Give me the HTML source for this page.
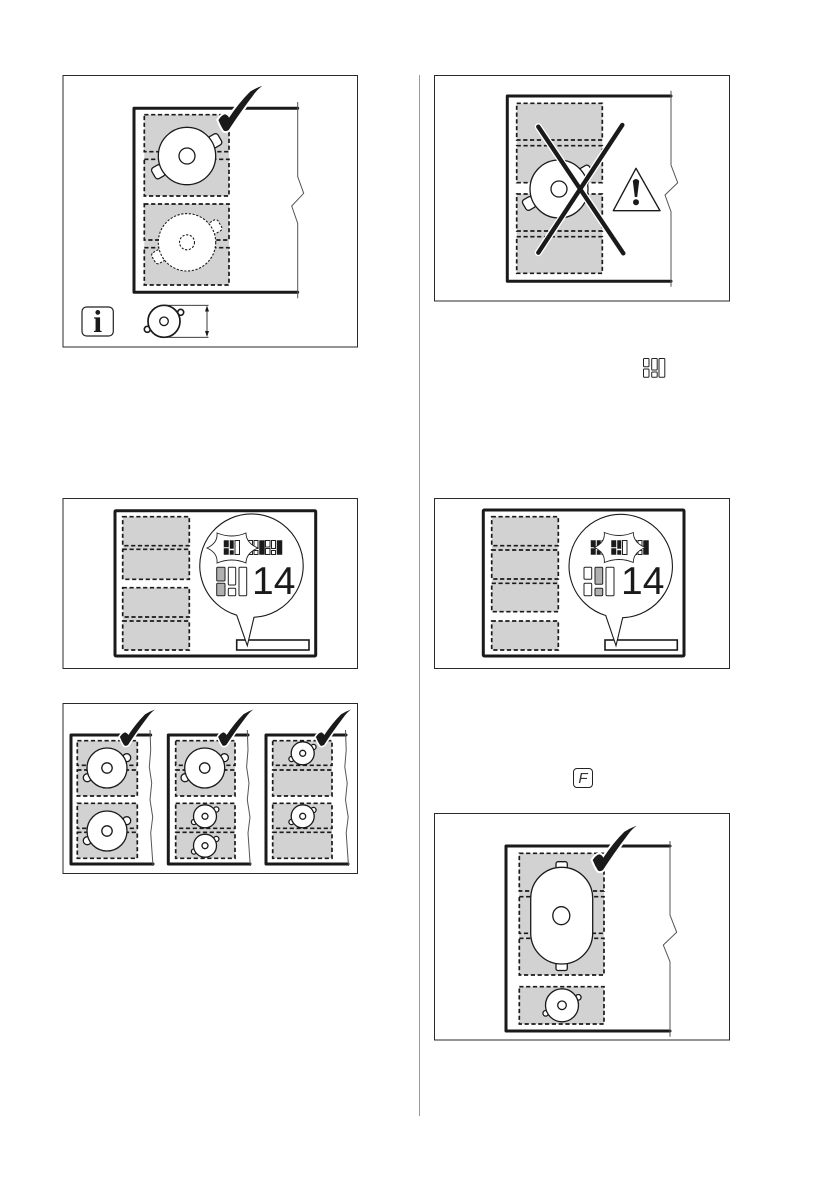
<!DOCTYPE html>
<html>
<head>
<meta charset="utf-8">
<title>Diagram</title>
<style>
html,body{margin:0;padding:0;background:#fff;}
svg{display:block;}
.f{fill:#fff;stroke:#2a2a2a;stroke-width:1;}
.g{fill:#d2d2d2;stroke:none;}
.z{fill:none;stroke:#1a1a1a;stroke-width:1.7;stroke-dasharray:4.2 2.6;}
.h{fill:none;stroke:#1a1a1a;stroke-width:3;stroke-linejoin:round;stroke-linecap:round;}
.e{fill:none;stroke:#555;stroke-width:1;}
.p{fill:#fff;stroke:#1a1a1a;stroke-width:1.3;}
.d{fill:#fff;stroke:#1a1a1a;stroke-width:1.1;stroke-dasharray:2.2 1.6;}
.c{fill:#fff;stroke:#222;stroke-width:1;}
.cg{fill:#b0b0b0;stroke:#222;stroke-width:1;}
.k{fill:#1a1a1a;stroke:#1a1a1a;stroke-width:.5;}
.n{font-family:"Liberation Sans",sans-serif;font-size:39px;fill:#1a1a1a;}
</style>
</head>
<body>
<svg xmlns="http://www.w3.org/2000/svg" width="839" height="1191" viewBox="0 0 839 1191">
<defs>
<path id="chk" d="M-7.3,-11 Q-4,-16 -0.7,-16.7 Q2,-16 3.3,-13.3 Q13,-28 24.3,-39.3 Q30,-43 36.7,-45.3 Q31,-41 27.7,-36 Q14,-18 3,-1 Q0,1 -2,-.5 Q-5,-5 -7.3,-11 Z" fill="#1a1a1a" stroke="#fff" stroke-width="4" paint-order="stroke"/>
<path id="star" d="M-25,0 Q-14,-5 -15,-15 Q0,-9 14,-15 Q14,-5 26,0 Q14,5 14,15 Q0,9 -15,15 Q-14,5 -25,0 Z" fill="#fff" stroke="#222" stroke-width=".9"/>
<g id="icoA"><rect class="k" x="0" y="0" width="4.5" height="6.5"/><rect class="k" x="0" y="8" width="4.5" height="6"/><rect class="k" x="6" y="0" width="3.5" height="8"/><rect class="k" x="6" y="10" width="3.5" height="4"/><rect class="c" x="11" y="0" width="4.5" height="14"/></g>
<g id="icoB"><rect class="c" x="0" y="0" width="4.5" height="6.5"/><rect class="c" x="0" y="8" width="4.5" height="6"/><rect class="c" x="6" y="0" width="4" height="8"/><rect class="c" x="6" y="10" width="4" height="4"/><rect class="k" x="11.5" y="0" width="5" height="14"/></g>
<path id="wave" class="e" d="M150,730L150.7,750L149.3,767L151.7,783L150,800L152.7,817L150.7,833L153,866"/>
</defs>

<line x1="419.5" y1="75" x2="419.5" y2="1116" stroke="#999" stroke-width="1"/>

<!-- Panel 1 -->
<rect class="f" x="63" y="75.5" width="294.5" height="271.5"/>
<rect class="g" x="144.3" y="114.7" width="84.7" height="81.3"/>
<rect class="g" x="144.3" y="204" width="84.7" height="81"/>
<rect class="z" x="144.3" y="114.7" width="84.7" height="37"/>
<rect class="z" x="144.3" y="159.3" width="84.7" height="36.7"/>
<rect class="z" x="144.3" y="204" width="84.7" height="36"/>
<rect class="z" x="144.3" y="247.7" width="84.7" height="37.3"/>
<path class="h" d="M297.7,108.3H134V292.3H297.7"/>
<path class="e" d="M297.7,102V176.7L303.7,193.3L291.7,206L297.7,223.3V298.3"/>
<rect class="p" x="209.5" y="134.5" width="11" height="12.5" rx="3" transform="rotate(-30 215 140.7)"/>
<rect class="p" x="152.8" y="165.5" width="11" height="12.5" rx="3" transform="rotate(-30 158.3 171.7)"/>
<circle class="p" cx="187" cy="156" r="28.7"/>
<circle class="p" cx="187" cy="156" r="8" stroke-width=".8"/>
<rect class="d" x="209.5" y="220.5" width="11" height="12.5" rx="3" transform="rotate(-30 215 226.5)"/>
<rect class="d" x="152.8" y="250.5" width="11" height="12.5" rx="3" transform="rotate(-30 158.3 256.5)"/>
<circle class="d" cx="187" cy="242.3" r="28.7"/>
<circle class="d" cx="187" cy="242.3" r="7.5" stroke-width=".8"/>
<use href="#chk" x="225.7" y="131"/>
<rect x="82" y="307" width="31.3" height="29" rx="4.5" fill="#fff" stroke="#222" stroke-width="1.2"/>
<text x="97.7" y="332" text-anchor="middle" font-family="'Liberation Serif',serif" font-weight="bold" font-size="32" fill="#1a1a1a">i</text>
<circle cx="180.7" cy="312.3" r="3" fill="#fff" stroke="#1a1a1a" stroke-width="1.6"/>
<circle cx="147.3" cy="329.3" r="3" fill="#fff" stroke="#1a1a1a" stroke-width="1.6"/>
<circle cx="164" cy="321.3" r="16" fill="#fff" stroke="#1a1a1a" stroke-width="1.7"/>
<circle class="p" cx="164" cy="321.3" r="4.3" stroke-width=".7"/>
<path d="M164,305.3H208.5M164,337.3H208.5M207,307V335.5" fill="none" stroke="#222" stroke-width=".9"/>
<path d="M207,305.5l-2,6h4zM207,337l-2,-6h4z" fill="#1a1a1a"/>

<!-- Panel 2 -->
<rect class="f" x="63" y="498.5" width="294.5" height="170"/>
<rect x="115" y="510.7" width="200.7" height="145.3" rx="1" class="h"/>
<rect class="g" x="122.7" y="516.7" width="66.6" height="62.6"/>
<rect class="g" x="122.7" y="587.7" width="66.6" height="62.3"/>
<rect class="z" x="122.7" y="516.7" width="66.6" height="29"/>
<rect class="z" x="122.7" y="549.3" width="66.6" height="30"/>
<rect class="z" x="122.7" y="587.7" width="66.6" height="29.3"/>
<rect class="z" x="122.7" y="621" width="66.6" height="29"/>
<rect x="236.7" y="640" width="72.3" height="10" fill="#fff" stroke="#1a1a1a" stroke-width="1.6"/>
<path d="M236.7,615.2A51.7,51.7 0 1 1 254,617.3L247.3,645.7Z" fill="#fff" stroke="#1a1a1a" stroke-width="1.1"/>
<use href="#icoB" x="248" y="540.5"/>
<use href="#icoB" x="265.5" y="540.5"/>
<use href="#star" x="232" y="548"/>
<use href="#icoA" x="224" y="540.5"/>
<rect class="cg" x="216.7" y="567.3" width="8.3" height="13.7" rx="1"/>
<rect class="cg" x="216.7" y="583.3" width="8.3" height="12.4" rx="1"/>
<rect class="c" x="228.3" y="567.3" width="7.4" height="17.7" rx="1"/>
<rect class="c" x="228.3" y="588.3" width="7.4" height="7.4" rx="1"/>
<rect class="c" x="239" y="567.3" width="7.7" height="28.4" rx="1"/>
<text class="n" x="252" y="594">14</text>

<!-- Panel 3 -->
<rect class="f" x="63" y="703.5" width="294.5" height="170"/>
<rect class="g" x="77.3" y="740.7" width="60" height="55.3"/>
<rect class="g" x="77.3" y="803.3" width="60" height="55"/>
<rect class="z" x="77.3" y="740.7" width="60" height="24.6"/>
<rect class="z" x="77.3" y="770" width="60" height="26"/>
<rect class="z" x="77.3" y="803.3" width="60" height="25"/>
<rect class="z" x="77.3" y="832.3" width="60" height="26"/>
<rect class="g" x="175.7" y="740.7" width="59.3" height="55.3"/>
<rect class="g" x="175.7" y="803.3" width="59.3" height="55"/>
<rect class="z" x="175.7" y="740.7" width="59.3" height="24.6"/>
<rect class="z" x="175.7" y="770" width="59.3" height="26"/>
<rect class="z" x="175.7" y="803.3" width="59.3" height="25"/>
<rect class="z" x="175.7" y="832.3" width="59.3" height="26"/>
<rect class="g" x="272.7" y="740.7" width="59.3" height="55.3"/>
<rect class="g" x="272.7" y="803.3" width="59.3" height="55"/>
<rect class="z" x="272.7" y="740.7" width="59.3" height="24.6"/>
<rect class="z" x="272.7" y="770" width="59.3" height="26"/>
<rect class="z" x="272.7" y="803.3" width="59.3" height="25"/>
<rect class="z" x="272.7" y="832.3" width="59.3" height="26"/>
<path class="h" d="M150.7,735H71V864H153"/>
<path class="h" d="M248,735H168.3V864H250"/>
<path class="h" d="M346,735H266V864H348"/>
<use href="#wave"/>
<use href="#wave" x="97.3"/>
<use href="#wave" x="195.5"/>
<circle class="p" cx="126.7" cy="757.7" r="4"/><circle class="p" cx="87.3" cy="777.7" r="4"/><circle class="p" cx="107" cy="768" r="20"/><circle class="p" cx="107" cy="768" r="5.2"/>
<circle class="p" cx="126.7" cy="820.7" r="4"/><circle class="p" cx="87.3" cy="840.7" r="4"/><circle class="p" cx="107" cy="831" r="20"/><circle class="p" cx="107" cy="831" r="5.2"/>
<circle class="p" cx="224.4" cy="757.7" r="4"/><circle class="p" cx="185" cy="777.7" r="4"/><circle class="p" cx="204.7" cy="768" r="20"/><circle class="p" cx="204.7" cy="768" r="5.2"/>
<circle class="p" cx="216.3" cy="809.5" r="2.6"/><circle class="p" cx="194" cy="822" r="2.6"/><circle class="p" cx="205" cy="816.3" r="11.5"/><circle class="p" cx="205" cy="816.3" r="3"/>
<circle class="p" cx="216.3" cy="839" r="2.6"/><circle class="p" cx="194" cy="851.5" r="2.6"/><circle class="p" cx="205" cy="845.7" r="11.5"/><circle class="p" cx="205" cy="845.7" r="3"/>
<circle class="p" cx="313.5" cy="747" r="2.6"/><circle class="p" cx="291.5" cy="759" r="2.6"/><circle class="p" cx="302.7" cy="753.3" r="11.5"/><circle class="p" cx="302.7" cy="753.3" r="3"/>
<circle class="p" cx="313.5" cy="810" r="2.6"/><circle class="p" cx="291.5" cy="822" r="2.6"/><circle class="p" cx="302.7" cy="816.3" r="11.5"/><circle class="p" cx="302.7" cy="816.3" r="3"/>
<use href="#chk" transform="translate(125.7 745.7) scale(.8)"/>
<use href="#chk" transform="translate(224 745.7) scale(.8)"/>
<use href="#chk" transform="translate(321.7 745.7) scale(.8)"/>

<!-- Panel 4 -->
<rect class="f" x="434.5" y="75.5" width="295" height="225.5"/>
<rect class="g" x="516.7" y="103.3" width="85.6" height="79.4"/>
<rect class="g" x="516.7" y="194" width="85.6" height="79.3"/>
<rect class="z" x="516.7" y="103.3" width="85.6" height="36.7"/>
<rect class="z" x="516.7" y="145.7" width="85.6" height="37"/>
<rect class="z" x="516.7" y="194" width="85.6" height="37"/>
<rect class="z" x="516.7" y="236.7" width="85.6" height="36.6"/>
<path class="h" d="M671,96H507.3V281.3H671"/>
<path class="e" d="M671,90.7V165L677.7,182.7L665,195L671,211.7V286.7"/>
<rect class="p" x="580.5" y="166" width="11" height="12" rx="3" transform="rotate(-30 586 171.7)"/>
<rect class="p" x="523.5" y="197.5" width="11" height="12" rx="3" transform="rotate(-30 529 203.3)"/>
<circle class="p" cx="559" cy="189" r="29"/>
<circle class="p" cx="559" cy="189" r="8" stroke-width=".8"/>
<path d="M538.3,126.7L623.3,253.3M622.3,125L538.3,252.7" fill="none" stroke="#fff" stroke-width="7" stroke-linecap="round"/>
<path d="M538.3,126.7L623.3,253.3M622.3,125L538.3,252.7" fill="none" stroke="#1a1a1a" stroke-width="4.4" stroke-linecap="round"/>
<path d="M636,168.3L660,210.7H613.3Z" fill="#fff" stroke="#1a1a1a" stroke-width="1.4" stroke-linejoin="round"/>
<path d="M632.8,181Q636,177 639.2,181L637.2,197H634.8Z" fill="#1a1a1a"/>
<circle cx="636" cy="202.3" r="3" fill="#1a1a1a"/>
<rect class="c" x="643.5" y="358.5" width="5.5" height="8.2" rx=".8"/>
<rect class="c" x="643.5" y="369" width="5.5" height="8.2" rx=".8"/>
<rect class="c" x="651.7" y="358.5" width="5.5" height="11.5" rx=".8"/>
<rect class="c" x="651.7" y="372" width="5.5" height="5.2" rx=".8"/>
<rect class="c" x="659" y="358.5" width="5.8" height="18.7" rx=".8"/>

<!-- Panel 5 -->
<rect class="f" x="434.5" y="498.5" width="295" height="170"/>
<rect x="483.3" y="510" width="200.7" height="146" rx="1" class="h"/>
<rect class="g" x="491.7" y="516.7" width="66.6" height="95"/>
<rect class="g" x="491.7" y="621" width="66.6" height="29"/>
<rect class="z" x="491.7" y="516.7" width="66.6" height="29"/>
<rect class="z" x="491.7" y="550" width="66.6" height="29"/>
<rect class="z" x="491.7" y="583.3" width="66.6" height="28.4"/>
<rect class="z" x="491.7" y="621" width="66.6" height="29"/>
<rect x="605" y="640" width="72.3" height="10" fill="#fff" stroke="#1a1a1a" stroke-width="1.6"/>
<path d="M605.7,615.5A51.7,51.7 0 1 1 622.7,617.7L616,645.7Z" fill="#fff" stroke="#1a1a1a" stroke-width="1.1"/>
<use href="#icoA" x="591" y="540.5"/>
<use href="#icoB" x="632" y="540.5"/>
<use href="#star" x="619.3" y="547.5"/>
<use href="#icoA" x="611.5" y="540.5"/>
<rect class="c" x="584" y="567.3" width="7.7" height="12" rx="1"/>
<rect class="c" x="584" y="583.3" width="7.7" height="12.4" rx="1"/>
<rect class="cg" x="595" y="567.3" width="7.7" height="17" rx="1"/>
<rect class="cg" x="595" y="588.3" width="7.7" height="7.4" rx="1"/>
<rect class="c" x="606" y="567.3" width="8" height="28.4" rx="1"/>
<text class="n" x="621" y="594">14</text>
<rect x="573.5" y="768.5" width="19" height="19" rx="3.5" fill="#fff" stroke="#222" stroke-width="1"/>
<text x="583" y="783" text-anchor="middle" font-family="'Liberation Sans',sans-serif" font-style="italic" font-size="15" fill="#333">F</text>

<!-- Panel 6 -->
<rect class="f" x="434.5" y="813.5" width="295" height="226.5"/>
<rect class="g" x="519.3" y="853.3" width="84.7" height="121.7"/>
<rect class="g" x="519.3" y="986.7" width="84.7" height="37.3"/>
<rect class="z" x="519.3" y="853.3" width="84.7" height="37.7"/>
<rect class="z" x="519.3" y="896.7" width="84.7" height="36.6"/>
<rect class="z" x="519.3" y="938.3" width="84.7" height="36.7"/>
<rect class="z" x="519.3" y="986.7" width="84.7" height="37.3"/>
<path class="h" d="M670,846H506V1031H670"/>
<path class="e" d="M670,841V915L676.7,932.3L663.3,945L670,961.7V1036.7"/>
<rect class="p" x="556" y="861.7" width="11.3" height="9" rx="2"/>
<rect class="p" x="556" y="961.5" width="11.3" height="9" rx="2"/>
<rect class="p" x="530.7" y="867.3" width="62" height="96.7" rx="31" ry="31"/>
<ellipse class="p" cx="561.3" cy="915.7" rx="8.5" ry="9" stroke-width=".8"/>
<circle class="p" cx="578.3" cy="997.3" r="2.8"/>
<circle class="p" cx="545.7" cy="1013.3" r="2.8"/>
<circle class="p" cx="562" cy="1005.3" r="16.5"/>
<circle class="p" cx="562" cy="1005.3" r="4.3" stroke-width=".8"/>
<use href="#chk" x="600" y="871"/>
</svg>
</body>
</html>
